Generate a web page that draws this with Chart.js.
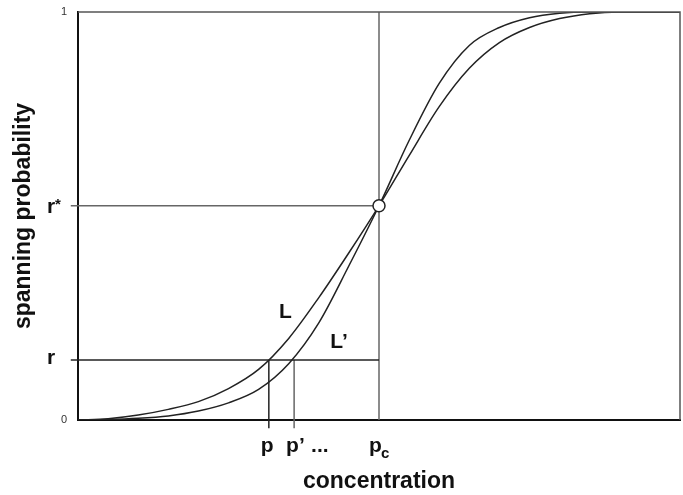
<!DOCTYPE html>
<html>
<head>
<meta charset="utf-8">
<script src="https://cdn.jsdelivr.net/npm/chart.js@4/dist/chart.umd.min.js"></script>
<style>
  body { margin: 0; background: #fff; }
  #wrap { width: 683px; height: 495px; }
  canvas { display: block; }
</style>
</head>
<body>
<div id="wrap"><canvas id="spanChart" width="683" height="495"></canvas></div>
<script>
// Values
const concentration = [0, 0.05, 0.1, 0.15, 0.2, 0.25, 0.3, 0.35, 0.4, 0.45, 0.5, 0.55, 0.6, 0.65, 0.7, 0.75, 0.8, 0.85, 0.9, 0.95, 1];
const spanL      = [0, 0.003, 0.012, 0.026, 0.045, 0.077, 0.124, 0.2, 0.3, 0.41, 0.525, 0.648, 0.768, 0.862, 0.925, 0.962, 0.984, 0.996, 1, 1, 1];
const spanLPrime = [0, 0.001, 0.004, 0.01, 0.022, 0.042, 0.075, 0.138, 0.238, 0.378, 0.525, 0.685, 0.825, 0.918, 0.962, 0.986, 0.997, 1, 1, 1, 1];

const pc = 0.5;          // critical concentration
const rStar = 0.525;     // fixed point r*
const rVal = 0.147;      // chosen spanning probability r
const pVal = 0.317;      // p for size L
const pPrimeVal = 0.359; // p' for size L'
const yTickValues = [0, 1];

function toPoints(xs, ys) {
  return xs.map((x, i) => ({ x: x, y: ys[i] }));
}

function noScalePadding(scale) {
  scale.paddingTop = 0;
  scale.paddingBottom = 0;
  scale.paddingLeft = 0;
  scale.paddingRight = 0;
}

const fontFamily = "'Liberation Sans', Arial, sans-serif";

// Custom text labels (L, L', r, r*, p, p', ..., pc) and the plot frame
const annotatePlugin = {
  id: 'annotate',
  afterDraw(chart) {
    const ctx = chart.ctx;
    const xs = chart.scales.x;
    const ys = chart.scales.y;
    const area = chart.chartArea;

    // frame on top and right
    ctx.save();
    ctx.strokeStyle = '#555';
    ctx.lineWidth = 1.5;
    ctx.beginPath();
    ctx.moveTo(area.left, area.top);
    ctx.lineTo(area.right, area.top);
    ctx.lineTo(area.right, area.bottom);
    ctx.stroke();

    ctx.fillStyle = '#111';
    ctx.textBaseline = 'alphabetic';
    ctx.textAlign = 'left';
    const big = 'bold 21px ' + fontFamily;
    const small = 'bold 15px ' + fontFamily;

    // y-side labels
    ctx.font = big;
    ctx.fillText('r', 47, ys.getPixelForValue(rVal) + 4);
    ctx.fillText('r', 47, ys.getPixelForValue(rStar) + 7);
    ctx.font = small;
    ctx.fillText('*', 55, ys.getPixelForValue(rStar) + 3);

    // curve labels
    ctx.font = big;
    ctx.fillText('L', xs.getPixelForValue(0.334), ys.getPixelForValue(0.25));
    ctx.fillText('L\u2019', xs.getPixelForValue(0.419), ys.getPixelForValue(0.176));

    // x-side labels
    const ly = area.bottom + 32;
    ctx.fillText('p', xs.getPixelForValue(pVal) - 8, ly);
    ctx.fillText('p\u2019', xs.getPixelForValue(pPrimeVal) - 8, ly);
    ctx.fillText('...', xs.getPixelForValue(pPrimeVal) + 17, ly);
    ctx.fillText('p', xs.getPixelForValue(pc) - 10, ly);
    ctx.font = small;
    ctx.fillText('c', xs.getPixelForValue(pc) + 2, ly + 6);
    ctx.restore();
  }
};

const ctx = document.getElementById('spanChart').getContext('2d');
new Chart(ctx, {
  type: 'scatter',
  data: {
    datasets: [
      {
        label: 'critical point',
        data: [{ x: pc, y: rStar }],
        pointRadius: 6,
        pointBackgroundColor: '#fff',
        pointBorderColor: '#222',
        pointBorderWidth: 1.5,
        showLine: false
      },
      {
        label: 'L',
        data: toPoints(concentration, spanL),
        showLine: true,
        cubicInterpolationMode: 'monotone',
        borderColor: '#222',
        borderWidth: 1.5,
        pointRadius: 0
      },
      {
        label: "L'",
        data: toPoints(concentration, spanLPrime),
        showLine: true,
        cubicInterpolationMode: 'monotone',
        borderColor: '#222',
        borderWidth: 1.5,
        pointRadius: 0
      },
      {
        label: 'r* line',
        data: [{ x: -0.012, y: rStar }, { x: pc, y: rStar }],
        showLine: true, borderColor: '#666', borderWidth: 1.5, pointRadius: 0, clip: false
      },
      {
        label: 'r line',
        data: [{ x: -0.012, y: rVal }, { x: pc, y: rVal }],
        showLine: true, borderColor: '#222', borderWidth: 1.5, pointRadius: 0, clip: false
      },
      {
        label: 'pc line',
        data: [{ x: pc, y: 0 }, { x: pc, y: 1 }],
        showLine: true, borderColor: '#666', borderWidth: 1.5, pointRadius: 0, clip: false
      },
      {
        label: 'p line',
        data: [{ x: pVal, y: -0.02 }, { x: pVal, y: rVal }],
        showLine: true, borderColor: '#222', borderWidth: 1.5, pointRadius: 0, clip: false
      },
      {
        label: "p' line",
        data: [{ x: pPrimeVal, y: -0.02 }, { x: pPrimeVal, y: rVal }],
        showLine: true, borderColor: '#666', borderWidth: 1.5, pointRadius: 0, clip: false
      }
    ]
  },
  options: {
    responsive: false,
    animation: false,
    layout: { autoPadding: false, padding: { left: 0, top: 12, right: 3, bottom: 0 } },
    plugins: {
      legend: { display: false },
      tooltip: { enabled: false }
    },
    scales: {
      x: {
        type: 'linear',
        min: 0,
        max: 1,
        grid: { display: false },
        border: { color: '#111', width: 2 },
        ticks: { display: false },
        title: {
          display: true,
          text: 'concentration',
          color: '#111',
          font: { family: fontFamily, size: 23, weight: 'bold' },
          padding: { top: 0, bottom: 0 }
        },
        afterFit: scale => { scale.height = 75; noScalePadding(scale); }
      },
      y: {
        type: 'linear',
        min: 0,
        max: 1,
        grid: { display: false, drawTicks: false },
        border: { color: '#111', width: 2 },
        afterBuildTicks: scale => { scale.ticks = yTickValues.map(v => ({ value: v })); },
        ticks: {
          color: '#333',
          padding: 11,
          font: { family: fontFamily, size: 11 }
        },
        title: {
          display: true,
          text: 'spanning probability',
          color: '#111',
          font: { family: fontFamily, size: 23, weight: 'bold' },
          padding: { top: 10, bottom: 0 }
        },
        afterFit: scale => { scale.width = 78; noScalePadding(scale); }
      }
    }
  },
  plugins: [annotatePlugin]
});
</script>
</body>
</html>
